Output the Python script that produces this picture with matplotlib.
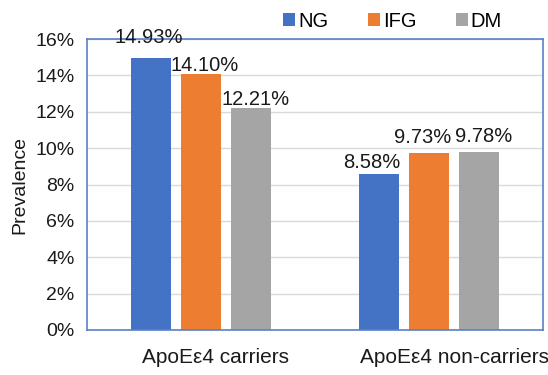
import numpy as np
import matplotlib
matplotlib.use("Agg")
import matplotlib.pyplot as plt
from matplotlib.ticker import PercentFormatter
from matplotlib.transforms import ScaledTranslation

plt.rcParams["font.family"] = ["Liberation Sans", "DejaVu Sans"]

groups = ["ApoE\u03b54 carriers", "ApoE\u03b54 non-carriers"]
series = ["NG", "IFG", "DM"]
colours = ["#4472C4", "#ED7D31", "#A5A5A5"]
ng = [14.93, 8.58]
ifg = [14.10, 9.73]
dm = [12.21, 9.78]
values = [ng, ifg, dm]

# label nudges (points) for each series' value text, per group
label_dx = [[-1.4, -5.0], [2.9, -4.3], [3.6, 3.6]]
label_dy = [[10.8, 4.3], [2.2, 7.2], [2.2, 7.2]]

text_col = "#1a1a1a"

fig = plt.figure(figsize=(5.48, 3.75), dpi=100)
ax = fig.add_axes([87 / 548, 1 - 330 / 375, 456 / 548, 291 / 375])

x = np.arange(len(groups))
width = 0.175
step = 0.219
for i, (name, vals, col) in enumerate(zip(series, values, colours)):
    pos = x + (i - 1) * step
    ax.bar(pos, vals, width, color=col, label=name, zorder=2)
    for j, (p, v) in enumerate(zip(pos, vals)):
        ax.annotate(f"{v:.2f}%", (p, v), xytext=(label_dx[i][j], label_dy[i][j]),
                    textcoords="offset points", ha="center", va="baseline",
                    fontsize=14.5, color=text_col, zorder=3)

ax.set_xlim(-0.5, 1.5)
ax.set_ylim(0, 16)
ax.set_yticks(np.arange(0, 17, 2))
ax.yaxis.set_major_formatter(PercentFormatter(decimals=0))
ax.set_xticks(x)
ax.set_xticklabels(groups, fontsize=15)
ax.tick_params(length=0, colors=text_col)
ax.tick_params(axis="y", labelsize=14, pad=9)
ax.tick_params(axis="x", pad=13)
# category labels sit a little right of the group centres
for lab, shift in zip(ax.get_xticklabels(), [14, 26]):
    lab.set_transform(lab.get_transform() + ScaledTranslation(shift / 100, 0, fig.dpi_scale_trans))
ax.grid(axis="y", color="#D9D9D9", linewidth=1, zorder=0)
for sp in ax.spines.values():
    sp.set_color("#5B7FC7")
    sp.set_linewidth(1.2)
ax.set_ylabel("Prevalence", fontsize=14, color=text_col, labelpad=5)

ax.legend(loc="lower center", bbox_to_anchor=(0.67, 1.0), ncol=3, frameon=False,
          fontsize=14.5, handlelength=0.6, handleheight=0.6, handletextpad=0.15,
          columnspacing=1.95, borderaxespad=0.0)

fig.savefig("out.png", dpi=100)
